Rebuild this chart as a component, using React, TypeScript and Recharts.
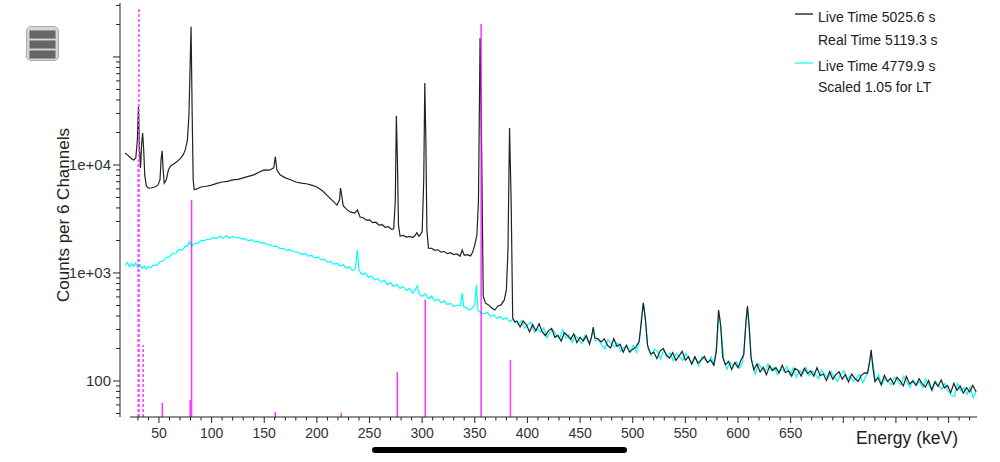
import { LineChart, Line, XAxis, YAxis, ReferenceLine, Legend } from "recharts"

const FONT = "'Liberation Sans', Arial, Helvetica, sans-serif"

// black spectrum (5025.6 s live time), keV / counts per 6 channels
const blackEnergy = [
  18, 20, 22, 24, 26, 28, 29.5, 30.5, 31.5, 32.5,
  33.5, 34.5, 35.5, 36.5, 38, 40, 43, 46, 49, 51,
  52, 53, 54, 55, 57, 59, 61, 64, 67, 70,
  73, 75, 77, 78.5, 79.5, 80.5, 81.5, 82.5, 83.5, 86,
  90, 95, 100, 105, 110, 115, 120, 125, 130, 135,
  140, 145, 150, 155, 159, 160.5, 162, 165, 170, 175,
  180, 185, 190, 195, 200, 205, 210, 215, 219, 221.5,
  222.5, 223.5, 225, 228, 232, 236, 238.5, 241, 244, 247,
  250, 253, 256, 259, 262, 265, 268, 271, 273, 274.5,
  275.5, 276.5, 277.5, 279, 282, 285, 288, 291, 293, 295,
  297, 300, 301.5, 302.5, 303.5, 304.5, 306, 309, 312, 315,
  318, 321, 324, 327, 330, 333, 336, 338, 340, 343,
  346, 348, 350, 352, 353.5, 355, 356.5, 358, 360, 363,
  366, 369, 372, 375, 378, 380, 381.5, 383, 384.5, 386,
  388, 390, 393, 396, 399, 402, 405, 408, 411, 414,
  417, 420, 423, 426, 429, 432, 435, 438, 441, 444,
  447, 450, 453, 456, 459, 461, 462.5, 464, 467, 470,
  473, 476, 479, 482, 485, 488, 491, 494, 497, 500,
  503, 506, 508, 510, 512, 514, 517, 520, 523, 526,
  529, 532, 535, 538, 541, 544, 547, 550, 553, 556,
  559, 562, 565, 568, 571, 574, 577, 579.5, 581.5, 583.5,
  585.5, 588, 591, 594, 597, 600, 603, 605.5, 607.5, 609,
  610.5, 612.5, 615, 618, 621, 624, 627, 630, 633, 636,
  639, 642, 645, 648, 651, 654, 657, 660, 663, 666,
  669, 672, 675, 678, 681, 684, 687, 690, 693, 696,
  699, 702, 705, 708, 711, 714, 717, 720, 723, 725,
  726.5, 728, 730, 733, 736, 739, 742, 745, 748, 751,
  754, 757, 760, 763, 766, 769, 772, 775, 778, 781,
  784, 787, 790, 793, 796, 799, 802, 805, 808, 811,
  814, 817, 820, 823, 826,
]
const blackCounts = [
  12900, 12400, 11900, 11400, 11100, 11600, 17000, 34500, 13800, 9400,
  15300, 19800, 13800, 8100, 6400, 6100, 6150, 6250, 6500, 7300,
  11100, 13500, 9000, 6800, 7300, 9000, 9800, 10200, 10700, 11400,
  12400, 13800, 17000, 29000, 76000, 190000, 32000, 7300, 5900, 6000,
  6250, 6350, 6500, 6750, 6960, 7050, 7270, 7350, 7600, 7850,
  8100, 8550, 9000, 8950, 9400, 11900, 9000, 8100, 7600, 7300,
  6960, 6800, 6700, 6500, 6250, 5800, 5200, 4650, 4250, 4740,
  6100, 5300, 4200, 3900, 3660, 3590, 3830, 3300, 3250, 3080,
  3100, 2920, 2950, 2780, 2800, 2650, 2680, 2530, 2560, 4740,
  28500, 11100, 2780, 2200, 2230, 2150, 2180, 2130, 2210, 2360,
  2180, 2400, 7270, 57500, 17000, 2500, 1700, 1690, 1620, 1640,
  1560, 1580, 1510, 1540, 1480, 1500, 1430, 1630, 1460, 1480,
  1440, 1560, 1820, 2250, 4740, 150000, 13800, 613, 528, 506,
  474, 454, 495, 506, 563, 696, 1630, 22000, 4740, 383,
  352, 359, 316, 359, 331, 286, 332, 292, 339, 286,
  263, 293, 307, 254, 265, 234, 279, 264, 243, 273,
  227, 254, 235, 263, 219, 260, 316, 250, 246, 230,
  246, 214, 202, 247, 209, 219, 185, 214, 185, 196,
  207, 230, 340, 528, 380, 215, 178, 185, 161, 190,
  200, 173, 163, 183, 155, 171, 188, 156, 168, 143,
  168, 147, 156, 169, 148, 157, 140, 190, 454, 330,
  165, 141, 152, 128, 148, 133, 157, 175, 350, 495,
  330, 160, 127, 144, 121, 134, 114, 138, 125, 133,
  119, 140, 120, 124, 111, 131, 125, 111, 131, 117,
  124, 111, 133, 112, 116, 101, 122, 104, 115, 122,
  104, 115, 98, 116, 106, 99, 112, 119, 118, 150,
  194, 135, 99, 107, 92, 113, 99, 106, 93, 108,
  100, 90, 110, 94, 100, 91, 105, 94, 88, 101,
  83, 98, 89, 102, 86, 91, 78, 95, 82, 90,
  77, 87, 79, 91, 80,
]

// cyan spectrum (4779.9 s live time, scaled 1.05)
const cyanEnergy = [
  18, 20, 22, 24, 26, 28, 30, 32, 34, 36,
  38, 40, 42, 45, 48, 51, 54, 57, 60, 63,
  66, 69, 72, 75, 77, 79, 81, 84, 87, 90,
  93, 96, 99, 102, 105, 108, 111, 114, 117, 120,
  123, 126, 129, 132, 135, 138, 141, 144, 147, 150,
  153, 156, 159, 162, 165, 168, 171, 174, 177, 180,
  183, 186, 189, 192, 195, 198, 201, 204, 207, 210,
  213, 216, 219, 222, 225, 228, 231, 234, 236.5, 238.5,
  240, 243, 246, 249, 252, 255, 258, 261, 264, 267,
  270, 273, 276, 279, 282, 285, 288, 291, 293.5, 295.5,
  297, 300, 303, 306, 309, 312, 315, 318, 321, 324,
  327, 330, 333, 336.5, 338, 339.5, 342, 345, 348, 350,
  351.5, 353, 356, 359, 362, 365, 368, 371, 374, 377,
  380, 383, 386, 389, 391.5, 394.5, 397.5, 400.5, 403.5, 406.5,
  409.5, 412.5, 415.5, 418.5, 421.5, 424.5, 427.5, 430.5, 433.5, 436.5,
  439.5, 442.5, 445.5, 448.5, 451.5, 454.5, 457.5, 460, 462.5, 464.5,
  467.5, 470.5, 473.5, 476.5, 479.5, 482.5, 485.5, 488.5, 491.5, 494.5,
  497.5, 500.5, 503.5, 506.5, 508.5, 510.5, 512.5, 514.5, 517.5, 520.5,
  523.5, 526.5, 529.5, 532.5, 535.5, 538.5, 541.5, 544.5, 547.5, 550.5,
  553.5, 556.5, 559.5, 562.5, 565.5, 568.5, 571.5, 574.5, 577.5, 580,
  582, 584, 586.5, 589.5, 592.5, 595.5, 598.5, 601.5, 604.5, 606.5,
  608.5, 610.5, 612.5, 616.5, 619.5, 622.5, 625.5, 628.5, 631.5, 634.5,
  637.5, 640.5, 643.5, 646.5, 649.5, 652.5, 655.5, 658.5, 661.5, 664.5,
  667.5, 670.5, 673.5, 676.5, 679.5, 682.5, 685.5, 688.5, 691.5, 694.5,
  697.5, 700.5, 703.5, 706.5, 709.5, 712.5, 715.5, 718.5, 721.5, 724,
  726, 728, 730.5, 733.5, 736.5, 739.5, 742.5, 745.5, 748.5, 751.5,
  754.5, 757.5, 760.5, 763.5, 766.5, 769.5, 772.5, 775.5, 778.5, 781.5,
  784.5, 787.5, 790.5, 793.5, 796.5, 799.5, 802.5, 805.5, 808.5, 811.5,
  814.5, 817.5, 820.5, 823.5, 826.5,
]
const cyanCounts = [
  1190, 1250, 1140, 1220, 1150, 1240, 1120, 1190, 1100, 1160,
  1090, 1150, 1120, 1190, 1170, 1270, 1290, 1390, 1410, 1520,
  1530, 1650, 1630, 1760, 1760, 1960, 1760, 1880, 1880, 2000,
  1990, 2050, 2060, 2120, 2090, 2200, 2100, 2210, 2110, 2180,
  2120, 2130, 2060, 2080, 1980, 2030, 1950, 1960, 1890, 1900,
  1830, 1820, 1760, 1770, 1680, 1690, 1610, 1650, 1580, 1570,
  1540, 1480, 1520, 1430, 1460, 1380, 1410, 1320, 1340, 1260,
  1280, 1200, 1230, 1160, 1190, 1110, 1140, 1050, 1090, 1630,
  1060, 970, 1000, 910, 940, 860, 890, 820, 860, 780,
  810, 750, 780, 720, 750, 690, 720, 650, 700, 757,
  640, 610, 640, 580, 610, 550, 575, 530, 550, 510,
  525, 490, 505, 500, 653, 485, 475, 455, 475, 510,
  774, 450, 425, 420, 430, 395, 410, 380, 395, 370,
  385, 355, 370, 345, 333, 363, 307, 335, 350, 283,
  302, 284, 309, 250, 284, 297, 262, 248, 300, 249,
  267, 227, 265, 245, 221, 265, 230, 240, 300, 235,
  241, 215, 198, 242, 224, 207, 226, 188, 204, 209,
  184, 214, 185, 240, 400, 515, 330, 200, 171, 197,
  187, 159, 195, 169, 182, 154, 180, 167, 155, 181,
  158, 146, 165, 138, 166, 158, 148, 167, 140, 230,
  440, 290, 160, 129, 149, 139, 151, 132, 150, 250,
  470, 320, 165, 116, 144, 131, 122, 144, 124, 134,
  114, 129, 123, 136, 114, 132, 108, 125, 116, 134,
  112, 124, 115, 105, 126, 115, 106, 122, 108, 99,
  116, 124, 103, 111, 100, 106, 115, 96, 111, 130,
  180, 150, 99, 114, 92, 106, 99, 92, 108, 101,
  92, 111, 97, 87, 102, 91, 99, 86, 104, 91,
  81, 100, 91, 84, 95, 80, 74, 72, 95, 81,
  87, 75, 88, 70, 82,
]

// Ba-133 library lines (relative intensity, %)
const lineEnergy = [30.3, 31.0, 35.0, 53.2, 79.6, 81.0, 160.6, 223.2, 276.4, 302.9, 356.0, 383.8]
const lineIntensity = [62, 98.8, 17.4, 3.4, 4.1, 52.4, 1.2, 1.0, 10.9, 28.3, 94.9, 13.8]
const lineIsXray = [true, true, true, false, false, false, false, false, false, false, false, false]

const xMajorTicks = [50, 100, 150, 200, 250, 300, 350, 400, 450, 500, 550, 600, 650, 700, 750, 800]
const xLabelledTicks = [50, 100, 150, 200, 250, 300, 350, 400, 450, 500, 550, 600, 650]
const yMajorTicks = [100, 1000, 10000, 100000]
const yTickLabels: Record<number, string> = { 100: "100", 1000: "1e+03", 10000: "1e+04" }

const legendRows = [
  { color: "#666666", label: "Live Time 5025.6 s", sub: "Real Time 5119.3 s" },
  { color: "#66ffff", label: "Live Time 4779.9 s", sub: "Scaled 1.05 for LT" },
]

const blackData = blackEnergy.map((e, i) => ({ e, c: blackCounts[i] }))
const cyanData = cyanEnergy.map((e, i) => ({ e, c: cyanCounts[i] }))

const xTicks: number[] = []
for (let v = 30; v <= 820; v += 10) xTicks.push(v)

const yTicks: number[] = [50, 60, 70, 80, 90]
for (const d of [100, 1000, 10000, 100000]) {
  for (let k = 1; k <= 9; k++) if (d * k <= 316000) yTicks.push(d * k)
}

function XTick(props: any) {
  const { x, y, payload } = props
  const v = payload.value
  const major = xMajorTicks.includes(v)
  return (
    <g>
      <line x1={x} x2={x} y1={y} y2={y + (major ? 6 : 3.5)} stroke="#222" />
      {xLabelledTicks.includes(v) && (
        <text x={x} y={y + 21} textAnchor="middle" fontSize={14} fill="#333" fontFamily={FONT}>
          {v}
        </text>
      )}
    </g>
  )
}

function YTick(props: any) {
  const { x, y, payload } = props
  const v = payload.value
  const major = yMajorTicks.includes(v)
  return (
    <g>
      <line x1={x - (major ? 7 : 4)} x2={x} y1={y} y2={y} stroke="#222" />
      {yTickLabels[v] && (
        <text x={x - 9} y={y + 5} textAnchor="end" fontSize={15} fill="#333" fontFamily={FONT}>
          {yTickLabels[v]}
        </text>
      )}
    </g>
  )
}

function YTitle(props: any) {
  const vb = props.viewBox
  const cx = vb.x + 63
  const cy = vb.y + vb.height / 2 + 5
  return (
    <text x={cx} y={cy} transform={`rotate(-90 ${cx} ${cy})`} textAnchor="middle" dominantBaseline="central"
      fontSize={17} fill="#222" fontFamily={FONT}>
      Counts per 6 Channels
    </text>
  )
}

function XTitle(props: any) {
  const vb = props.viewBox
  return (
    <text x={vb.x + vb.width - 19} y={vb.y + 27} textAnchor="end" fontSize={17.5} fill="#222" fontFamily={FONT}>
      Energy (keV)
    </text>
  )
}

function SpectrumLegend() {
  return (
    <svg width={200} height={100}>
      {legendRows.map((r, i) => {
        const top = i === 0 ? 0 : 49
        return (
          <g key={r.label}>
            <line x1={15} x2={33} y1={top + 14} y2={top + 14} stroke={r.color} strokeWidth={2} />
            <text x={38} y={top + 22} fontSize={14} fill="#222" fontFamily={FONT}>{r.label}</text>
            <text x={38} y={top + 45 + (i === 0 ? 0 : -2)} fontSize={14} fill="#222" fontFamily={FONT}>{r.sub}</text>
          </g>
        )
      })}
    </svg>
  )
}

export default function App() {
  return (
    <div style={{ position: "absolute", left: 0, top: 0, width: 1000, height: 462, background: "#fff", fontFamily: FONT }}>
      <LineChart width={1000} height={462} margin={{ top: 3, right: 23, bottom: 0, left: 0 }}>
        <XAxis
          dataKey="e"
          type="number"
          domain={[13, 827]}
          allowDataOverflow
          ticks={xTicks}
          interval={0}
          tickSize={0}
          tickMargin={0}
          tickLine={false}
          tick={<XTick />}
          axisLine={{ stroke: "#222", strokeDasharray: "0 10 2000" }}
          height={45}
          label={<XTitle />}
        />
        <YAxis
          type="number"
          scale="log"
          domain={[46.4, 316000]}
          allowDataOverflow
          ticks={yTicks}
          interval={0}
          width={120}
          tickSize={0}
          tickMargin={0}
          tickLine={false}
          tick={<YTick />}
          axisLine={{ stroke: "#222" }}
          label={<YTitle />}
        />
        <YAxis yAxisId="lines" hide type="number" domain={[0, 100]} allowDataOverflow />
        <Line data={cyanData} dataKey="c" type="linear" stroke="#00ffff" strokeWidth={1.2} dot={false}
          activeDot={false} isAnimationActive={false} />
        <Line data={blackData} dataKey="c" type="linear" stroke="#222" strokeWidth={1.2} dot={false}
          activeDot={false} isAnimationActive={false} />
        {lineEnergy.map((e, i) => (
          <ReferenceLine
            key={e}
            yAxisId="lines"
            segment={[{ x: e, y: 0 }, { x: e, y: lineIntensity[i] }]}
            stroke={lineIsXray[i] ? "#ff44ff" : "#ff00ff"}
            strokeOpacity={lineIsXray[i] ? 1 : 0.8}
            strokeWidth={lineIsXray[i] ? 1.6 : 1.5}
            strokeDasharray={lineIsXray[i] ? "3 2" : undefined}
          />
        ))}
        <Legend
          layout="vertical"
          align="center"
          verticalAlign="middle"
          content={<SpectrumLegend />}
          wrapperStyle={{ position: "absolute", left: 780, top: 0, width: 200, height: 100 }}
        />
      </LineChart>
      <div style={{ position: "absolute", left: 26, top: 26, width: 31, height: 33, borderRadius: 5,
        background: "#d6d6d6", border: "1px solid #aaa" }}>
        {[0, 1, 2].map((k) => (
          <div key={k} style={{ position: "absolute", left: 2, top: 3 + k * 10, width: 25, height: 7,
            background: "#666", border: "1px solid #999", borderRadius: 1 }} />
        ))}
      </div>
      <div style={{ position: "absolute", left: 372, top: 447, width: 255, height: 6, borderRadius: 3, background: "#000" }} />
    </div>
  )
}
